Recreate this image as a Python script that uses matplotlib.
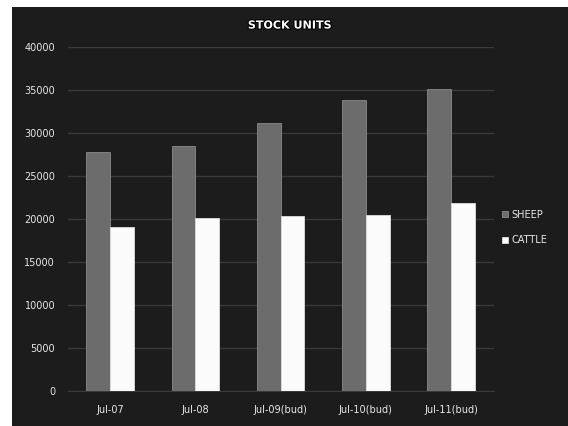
import numpy as np
import matplotlib
matplotlib.use("Agg")
import matplotlib.pyplot as plt
from matplotlib.patches import Rectangle
import matplotlib.patheffects as pe

# data
categories = ["Jul-07", "Jul-08", "Jul-09(bud)", "Jul-10(bud)", "Jul-11(bud)"]
sheep = [27800, 28500, 31200, 33800, 35100]
cattle = [19100, 20100, 20300, 20500, 21800]
yticks = [0, 5000, 10000, 15000, 20000, 25000, 30000, 35000, 40000]

bg = "#1c1c1c"
txt = "#e8e8e8"

fig = plt.figure(figsize=(5.68, 4.26), dpi=100)
fig.patch.set_facecolor("white")
# dark chart area (white strip at top and left like the scan)
fig.patches.append(Rectangle((12/568, 0), 1, 1 - 7/426, transform=fig.transFigure,
                             facecolor=bg, edgecolor="none", zorder=-10))

ax = fig.add_axes([0.119, 0.082, 0.75, 0.808])
ax.set_zorder(1)
ax.set_facecolor(bg)
x = np.arange(len(categories))
w = 0.28
ax.bar(x - w/2, sheep, w, color="#6c6c6c", edgecolor="#8a8a8a", linewidth=0.6,
       label="SHEEP", zorder=3)
ax.bar(x + w/2, cattle, w, color="#fbfbfb", edgecolor="#dddddd", linewidth=0.6,
       label="CATTLE", zorder=3)

ax.set_xlim(-0.5, len(categories) - 0.5)
ax.set_ylim(0, 40000)
ax.set_yticks(yticks)
ax.set_xticks(x)
ax.set_xticklabels(categories)
ax.tick_params(colors=txt, labelsize=7, length=0, pad=9)
ax.tick_params(axis="x", pad=10)
ax.grid(axis="y", color="#3a3a3a", linewidth=1.0, zorder=0)
for s in ax.spines.values():
    s.set_visible(False)
ax.spines["bottom"].set_visible(True)
ax.spines["bottom"].set_color("#3a3a3a")

fig.text(0.51, 0.94, "STOCK UNITS", ha="center", va="center", color="white",
         fontsize=8, fontweight="bold",
         path_effects=[pe.withStroke(linewidth=1.5, foreground="black")])

leg = ax.legend(loc="center left", bbox_to_anchor=(1.0, 0.475), frameon=False,
                fontsize=7, labelcolor=txt, handlelength=0.6, handleheight=0.6,
                handletextpad=0.3, labelspacing=1.6)

fig.savefig("out.png", dpi=100, facecolor=fig.get_facecolor())
